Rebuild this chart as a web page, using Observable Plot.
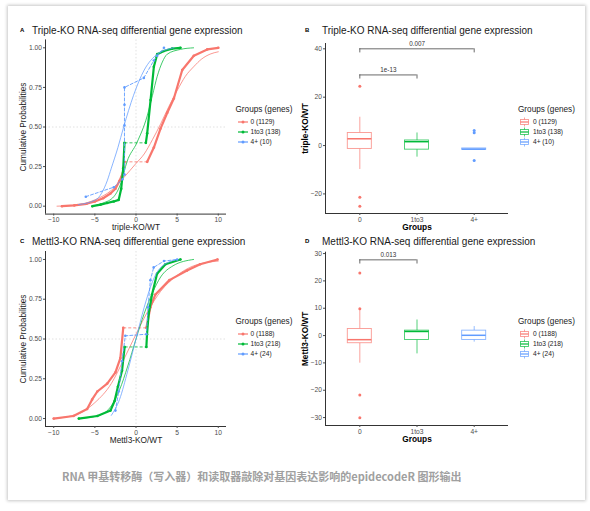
<!DOCTYPE html>
<html><head><meta charset="utf-8">
<script src="https://cdn.jsdelivr.net/npm/d3@7"></script>
<script src="https://cdn.jsdelivr.net/npm/@observablehq/plot@0.6"></script>
<style>
body{margin:0;background:#fff;}
#root{position:relative;width:590px;height:511px;overflow:hidden;font-family:"Liberation Sans",Arial,sans-serif;background:#fff;}
.card{position:absolute;left:8px;top:6px;width:577px;height:494px;background:#fff;box-shadow:0 0 3px 1px rgba(0,0,0,0.22);}
.abs{position:absolute;line-height:1;white-space:nowrap;}
.title{font-size:10px;color:#1a1a1a;}
.tag{font-size:6px;font-weight:bold;color:#000;}
.legt{font-size:8.2px;color:#1a1a1a;}
.legi{font-size:6.6px;color:#1a1a1a;}
.caption{font-family:"Noto Sans CJK SC","Noto Sans",sans-serif;font-size:11px;font-weight:bold;color:#a0a0a0;letter-spacing:0px;}
</style></head>
<body><div id="root"><div class="card"></div></div>
<script>
// ---------- data ----------
const groups = ["0", "1to3", "4+"];
const groupColors = ["#F8766D", "#00BA38", "#619CFF"];
const tripleCounts = [1129, 138, 10];
const mettl3Counts = [1188, 218, 24];
const ecdfXTicks = [-10, -5, 0, 5, 10];
const ecdfYTicks = [0, 0.25, 0.5, 0.75, 1];
const tripleBoxTicks = [-20, 0, 20, 40];
const mettl3BoxTicks = [-30, -20, -10, 0, 10, 20, 30];

// Panel A (triple-KO) ECDF readings
const aRedLowX = [-9.0, -7.5, -6.0, -5.0, -4.0, -3.1, -2.5, -2.0, -1.6, -1.4];
const aRedLowY = [0, 0.005, 0.015, 0.03, 0.05, 0.08, 0.11, 0.16, 0.21, 0.28];
const aRedHighX = [1.36, 2.17, 2.98, 3.8, 4.6, 5.62, 7.03, 8.66, 10.0];
const aRedHighY = [0.28, 0.37, 0.49, 0.59, 0.68, 0.86, 0.95, 0.99, 1.0];
const aRedFitX = [-9.6, -7, -5, -3, -1.5, 0, 1, 2, 3, 4, 5, 6, 7, 8, 9, 10];
const aRedFitY = [0, 0.01, 0.04, 0.1, 0.18, 0.27, 0.33, 0.42, 0.52, 0.63, 0.73, 0.82, 0.88, 0.93, 0.96, 0.975];
const aGreenLowX = [-5.3, -4.3, -3.5, -2.7, -2.1, -1.8, -1.55, -1.4];
const aGreenLowY = [0, 0.01, 0.02, 0.03, 0.04, 0.11, 0.24, 0.40];
const aGreenHighX = [1.2, 1.36, 1.77, 2.17, 2.58, 3.4, 4.4, 5.4];
const aGreenHighY = [0.40, 0.46, 0.67, 0.88, 0.96, 0.98, 0.995, 1.0];
const aGreenFitX = [-5.3, -4, -2.7, -1.8, -1.1, 0.1, 1.36, 2.0, 2.58, 3.2, 3.8, 5.4, 7.0];
const aGreenFitY = [0, 0.02, 0.06, 0.15, 0.28, 0.4, 0.57, 0.7, 0.82, 0.91, 0.96, 0.99, 1.0];
const aBlueEcdfX = [-6.1, -2.7, -1.64, -1.4, -1.4, -1.4, -1.4, 0.95, 2.17, 2.58, 3.4];
const aBlueEcdfY = [0.06, 0.12, 0.17, 0.2, 0.51, 0.64, 0.75, 0.81, 0.92, 0.95, 1.0];
const aBlueFitX = [-7, -4.9, -3.5, -3.0, -2.2, -1.5, -0.3, 1.0, 2.6, 4.6];
const aBlueFitY = [0.01, 0.04, 0.16, 0.24, 0.37, 0.5, 0.7, 0.86, 0.96, 1.0];

// Panel C (Mettl3-KO) ECDF readings
const cRedLowX = [-10, -7.6, -5.94, -5.33, -4.7, -3.5, -2.5, -1.9, -1.55];
const cRedLowY = [0, 0.016, 0.06, 0.12, 0.17, 0.22, 0.29, 0.38, 0.57];
const cRedHighX = [1.26, 1.75, 2.36, 4.06, 6.2, 7.8, 9.9];
const cRedHighY = [0.57, 0.70, 0.78, 0.87, 0.93, 0.97, 1.0];
const cRedFitX = [-10, -7, -5, -3, -1.5, 0, 1.5, 3, 5, 7, 10];
const cRedFitY = [0, 0.03, 0.1, 0.22, 0.37, 0.53, 0.68, 0.8, 0.9, 0.96, 0.99];
const cGreenLowX = [-6.95, -4.7, -3.1, -2.6, -2.2, -1.7, -1.38];
const cGreenLowY = [0, 0.016, 0.05, 0.11, 0.2, 0.3, 0.45];
const cGreenHighX = [1.26, 1.34, 1.54, 1.95, 2.56, 3.58, 5.4];
const cGreenHighY = [0.45, 0.53, 0.66, 0.78, 0.91, 0.97, 1.0];
const cGreenFitX = [-7, -4.5, -3, -2, -1, 0, 1, 2, 3, 4.5, 7];
const cGreenFitY = [0, 0.02, 0.08, 0.18, 0.33, 0.5, 0.66, 0.79, 0.89, 0.96, 1.0];
const cBlueEcdfX = [-2.5, -2.1, -1.7, -1.3, 1.26, 1.46, 1.75, 2.15, 3.4, 5.0];
const cBlueEcdfY = [0.05, 0.17, 0.36, 0.52, 0.53, 0.7, 0.87, 0.95, 0.99, 1.0];
const cBlueFitX = [-3, -2, -1, 0, 1, 2, 3, 5];
const cBlueFitY = [0.02, 0.12, 0.3, 0.5, 0.7, 0.86, 0.95, 1.0];

// Panel B (triple-KO) box statistics
const tripleLo = [-9.9, -4.8, -1.7];
const tripleQ1 = [-1.4, -1.7, -1.7];
const tripleMed = [2.8, 1.6, -1.5];
const tripleQ3 = [5.2, 2.1, -1.2];
const tripleHi = [11.7, 5.2, -1.2];
const tripleOutGroup = ["0", "0", "0", "4+", "4+", "4+"];
const tripleOutValue = [24.5, -21.4, -25.1, 5.3, 6.2, -6.2];
const tripleBracketFrom = ["0", "0"];
const tripleBracketTo = ["4+", "1to3"];
const tripleBracketY = [40, 29.2];
const tripleBracketLabel = ["0.007", "1e-13"];

// Panel D (Mettl3-KO) box statistics
const mettl3Lo = [-10.1, -6.7, -2.4];
const mettl3Q1 = [-2.8, -1.6, -1.6];
const mettl3Med = [-1.5, 1.5, 0.1];
const mettl3Q3 = [2.4, 1.8, 1.8];
const mettl3Hi = [9.8, 5.7, 3.3];
const mettl3OutGroup = ["0", "0", "0", "0"];
const mettl3OutValue = [22.9, 9.8, -21.7, -30.1];
const mettl3BracketFrom = ["0"];
const mettl3BracketTo = ["1to3"];
const mettl3BracketY = [27.7];
const mettl3BracketLabel = ["0.013"];

// ---------- helpers ----------
const root = document.getElementById("root");
const FONT = "Liberation Sans, Arial, sans-serif";
const zip = (xs, ys) => xs.map((x, i) => ({x, y: ys[i]}));

function addText(cls, text, left, top, extra) {
  const d = document.createElement("div");
  d.className = "abs " + cls;
  d.textContent = text;
  d.style.left = left + "px";
  d.style.top = top + "px";
  if (extra) Object.assign(d.style, extra);
  root.appendChild(d);
  return d;
}
function place(svg, left, top) {
  const w = document.createElement("div");
  w.style.position = "absolute";
  w.style.left = left + "px";
  w.style.top = top + "px";
  w.appendChild(svg);
  root.appendChild(w);
}

function ecdfPanel(o) {
  const xDom = [-11, 11], yDom = [-0.05, 1.05];
  const ref = {stroke: "#d4d4d4", strokeDasharray: "1.5,2", strokeWidth: 0.7};
  const marks = [Plot.ruleX([0], ref), Plot.ruleY([0.5], ref)];
  o.series.forEach(s => {
    marks.push(Plot.line(zip(s.fitX, s.fitY), {x: "x", y: "y", stroke: s.color, strokeWidth: 0.75, curve: "monotone-x"}));
    if (s.lowX) {
      const low = zip(s.lowX, s.lowY), high = zip(s.highX, s.highY);
      marks.push(Plot.link([{a: low[low.length - 1], b: high[0]}], {
        x1: d => d.a.x, y1: d => d.a.y, x2: d => d.b.x, y2: d => d.b.y,
        stroke: s.color, strokeWidth: 0.8, strokeDasharray: "3,2"}));
      marks.push(Plot.line(low, {x: "x", y: "y", stroke: s.color, strokeWidth: 2.2, strokeLinejoin: "round"}));
      marks.push(Plot.line(high, {x: "x", y: "y", stroke: s.color, strokeWidth: 2.2, strokeLinejoin: "round"}));
      marks.push(Plot.dot(low.concat(high), {x: "x", y: "y", fill: s.color, r: 1.3, stroke: null}));
    }
    if (s.ecdfX) {
      const e = zip(s.ecdfX, s.ecdfY);
      marks.push(Plot.line(e, {x: "x", y: "y", stroke: s.color, strokeWidth: 0.9, strokeDasharray: "3,2"}));
      marks.push(Plot.dot(e, {x: "x", y: "y", fill: s.color, r: 1.3, stroke: null}));
    }
  });
  marks.push(
    Plot.ruleX([xDom[0]], {stroke: "#000", strokeWidth: 0.8}),
    Plot.ruleY([yDom[0]], {stroke: "#000", strokeWidth: 0.8}),
    Plot.axisX({ticks: ecdfXTicks, tickSize: 2, tickPadding: 1.5, fontSize: 6.7, color: "#4d4d4d", label: null}),
    Plot.axisY({ticks: ecdfYTicks, tickFormat: d => d.toFixed(2), tickSize: 2, tickPadding: 1.5, fontSize: 6.7, color: "#4d4d4d", label: null}),
    Plot.text([o.xLabel], {frameAnchor: "bottom", dy: 13.5, fontSize: 8.3, textAnchor: "middle", lineAnchor: "middle", fill: "#1a1a1a"}),
    Plot.text(["Cumulative Probabilities"], {frameAnchor: "left", dx: -22, rotate: -90, fontSize: 8.3, textAnchor: "middle", lineAnchor: "middle", fill: "#1a1a1a"})
  );
  return Plot.plot({
    width: o.width, height: o.height,
    marginLeft: o.ml, marginRight: o.mr, marginTop: o.mt, marginBottom: o.mb,
    x: {domain: xDom}, y: {domain: yDom},
    style: {fontFamily: FONT, background: "none", overflow: "visible"},
    marks
  });
}

function boxPanel(o) {
  const xDom = [-0.6, 2.6];
  const half = 0.21;
  const span = o.yDom[1] - o.yDom[0];
  const drop = span * 0.024;
  const marks = [];
  groups.forEach((g, i) => {
    const c = groupColors[i];
    const b = [{i, lo: o.lo[i], q1: o.q1[i], med: o.med[i], q3: o.q3[i], hi: o.hi[i]}];
    marks.push(
      Plot.ruleX(b, {x: "i", y1: "q3", y2: "hi", stroke: c, strokeOpacity: 0.75, strokeWidth: 0.9}),
      Plot.ruleX(b, {x: "i", y1: "lo", y2: "q1", stroke: c, strokeOpacity: 0.75, strokeWidth: 0.9}),
      Plot.rect(b, {x1: d => d.i - half, x2: d => d.i + half, y1: "q1", y2: "q3", stroke: c, strokeOpacity: 0.75, fill: "white", strokeWidth: 0.9}),
      Plot.ruleY(b, {x1: d => d.i - half, x2: d => d.i + half, y: "med", stroke: c, strokeWidth: 1.5})
    );
    const outs = o.outGroup.map((og, k) => ({og, v: o.outValue[k]})).filter(d => d.og === g);
    marks.push(Plot.dot(outs, {x: () => i, y: "v", fill: c, r: 1.5, stroke: null}));
  });
  const br = o.bFrom.map((f, k) => ({a: groups.indexOf(f), b: groups.indexOf(o.bTo[k]), y: o.bY[k], label: o.bLabel[k]}));
  marks.push(
    Plot.ruleY(br, {x1: "a", x2: "b", y: "y", stroke: "#444", strokeWidth: 0.8}),
    Plot.ruleX(br, {x: "a", y1: d => d.y - drop, y2: "y", stroke: "#444", strokeWidth: 0.8}),
    Plot.ruleX(br, {x: "b", y1: d => d.y - drop, y2: "y", stroke: "#444", strokeWidth: 0.8}),
    Plot.text(br, {x: d => (d.a + d.b) / 2, y: "y", text: "label", dy: -4.5, fontSize: 6.3, fill: "#333", lineAnchor: "middle"}),
    Plot.ruleX([xDom[0]], {stroke: "#000", strokeWidth: 0.8}),
    Plot.ruleY([o.yDom[0]], {stroke: "#000", strokeWidth: 0.8}),
    Plot.axisX({ticks: [0, 1, 2], tickFormat: i => groups[i], tickSize: 2, tickPadding: 1.5, fontSize: 6.7, color: "#4d4d4d", label: null}),
    Plot.axisY({ticks: o.ticks, tickSize: 2, tickPadding: 1.5, fontSize: 6.7, color: "#4d4d4d", label: null}),
    Plot.text(["Groups"], {frameAnchor: "bottom", dy: 14, fontSize: 8.3, fontWeight: "bold", textAnchor: "middle", lineAnchor: "middle", fill: "#000"}),
    Plot.text([o.yLabel], {frameAnchor: "left", dx: -20, rotate: -90, fontSize: 8.3, fontWeight: "bold", textAnchor: "middle", lineAnchor: "middle", fill: "#000"})
  );
  return Plot.plot({
    width: o.width, height: o.height,
    marginLeft: o.ml, marginRight: o.mr, marginTop: o.mt, marginBottom: o.mb,
    x: {domain: xDom}, y: {domain: o.yDom},
    style: {fontFamily: FONT, background: "none", overflow: "visible"},
    marks
  });
}

function legend(left, titleCenter, counts, kind) {
  addText("legt", "Groups (genes)", left, titleCenter - 4.2);
  groups.forEach((g, i) => {
    const cy = titleCenter + 12 + i * 10.2;
    const c = groupColors[i];
    const ns = "http://www.w3.org/2000/svg";
    const svg = document.createElementNS(ns, "svg");
    svg.setAttribute("width", 12); svg.setAttribute("height", 10);
    svg.style.position = "absolute";
    svg.style.left = (left + 1) + "px";
    svg.style.top = (cy - 5) + "px";
    if (kind === "line") {
      svg.innerHTML = `<line x1="1" x2="11" y1="5" y2="5" stroke="${c}" stroke-width="1.2"/><circle cx="6" cy="5" r="1.5" fill="${c}"/>`;
    } else {
      svg.innerHTML = `<line x1="5.5" x2="5.5" y1="0.5" y2="9.5" stroke="${c}" stroke-opacity="0.75" stroke-width="0.9"/>` +
        `<rect x="1.5" y="2.5" width="8" height="5" fill="white" stroke="${c}" stroke-opacity="0.75" stroke-width="0.9"/>` +
        `<line x1="1.5" x2="9.5" y1="5" y2="5" stroke="${c}" stroke-width="1.2"/>`;
    }
    root.appendChild(svg);
    addText("legi", `${g} (${counts[i]})`, left + 15, cy - 3.5);
  });
}

// ---------- panels ----------
addText("tag", "A", 20, 27);
addText("title", "Triple-KO RNA-seq differential gene expression", 32, 26);
place(ecdfPanel({
  width: 240, height: 204, ml: 45, mr: 14, mt: 3.4, mb: 26.4, xLabel: "triple-KO/WT",
  series: [
    {color: groupColors[0], lowX: aRedLowX, lowY: aRedLowY, highX: aRedHighX, highY: aRedHighY, fitX: aRedFitX, fitY: aRedFitY},
    {color: groupColors[1], lowX: aGreenLowX, lowY: aGreenLowY, highX: aGreenHighX, highY: aGreenHighY, fitX: aGreenFitX, fitY: aGreenFitY},
    {color: groupColors[2], ecdfX: aBlueEcdfX, ecdfY: aBlueEcdfY, fitX: aBlueFitX, fitY: aBlueFitY}
  ]
}), 0, 36);
legend(235.5, 110, tripleCounts, "line");

addText("tag", "B", 305, 27);
addText("title", "Triple-KO RNA-seq differential gene expression", 322, 26);
place(boxPanel({
  width: 230, height: 204, ml: 35, mr: 12, mt: 7, mb: 27,
  yDom: [-28.1, 42.2], ticks: tripleBoxTicks, yLabel: "triple-KO/WT",
  lo: tripleLo, q1: tripleQ1, med: tripleMed, q3: tripleQ3, hi: tripleHi,
  outGroup: tripleOutGroup, outValue: tripleOutValue,
  bFrom: tripleBracketFrom, bTo: tripleBracketTo, bY: tripleBracketY, bLabel: tripleBracketLabel
}), 290, 36);
legend(518, 110, tripleCounts, "box");

addText("tag", "C", 20, 238);
addText("title", "Mettl3-KO RNA-seq differential gene expression", 32, 237);
place(ecdfPanel({
  width: 240, height: 204, ml: 45, mr: 14, mt: 5, mb: 24, xLabel: "Mettl3-KO/WT",
  series: [
    {color: groupColors[0], lowX: cRedLowX, lowY: cRedLowY, highX: cRedHighX, highY: cRedHighY, fitX: cRedFitX, fitY: cRedFitY},
    {color: groupColors[1], lowX: cGreenLowX, lowY: cGreenLowY, highX: cGreenHighX, highY: cGreenHighY, fitX: cGreenFitX, fitY: cGreenFitY},
    {color: groupColors[2], ecdfX: cBlueEcdfX, ecdfY: cBlueEcdfY, fitX: cBlueFitX, fitY: cBlueFitY}
  ]
}), 0, 246);
legend(235.5, 322, mettl3Counts, "line");

addText("tag", "D", 305, 238);
addText("title", "Mettl3-KO RNA-seq differential gene expression", 322, 237);
place(boxPanel({
  width: 230, height: 204, ml: 35, mr: 12, mt: 5.7, mb: 25,
  yDom: [-32.9, 30.5], ticks: mettl3BoxTicks, yLabel: "Mettl3-KO/WT",
  lo: mettl3Lo, q1: mettl3Q1, med: mettl3Med, q3: mettl3Q3, hi: mettl3Hi,
  outGroup: mettl3OutGroup, outValue: mettl3OutValue,
  bFrom: mettl3BracketFrom, bTo: mettl3BracketTo, bY: mettl3BracketY, bLabel: mettl3BracketLabel
}), 290, 246);
legend(518, 322, mettl3Counts, "box");

addText("caption", "RNA 甲基转移酶（写入器）和读取器敲除对基因表达影响的epidecodeR 图形输出", 62, 471);
</script></body></html>
